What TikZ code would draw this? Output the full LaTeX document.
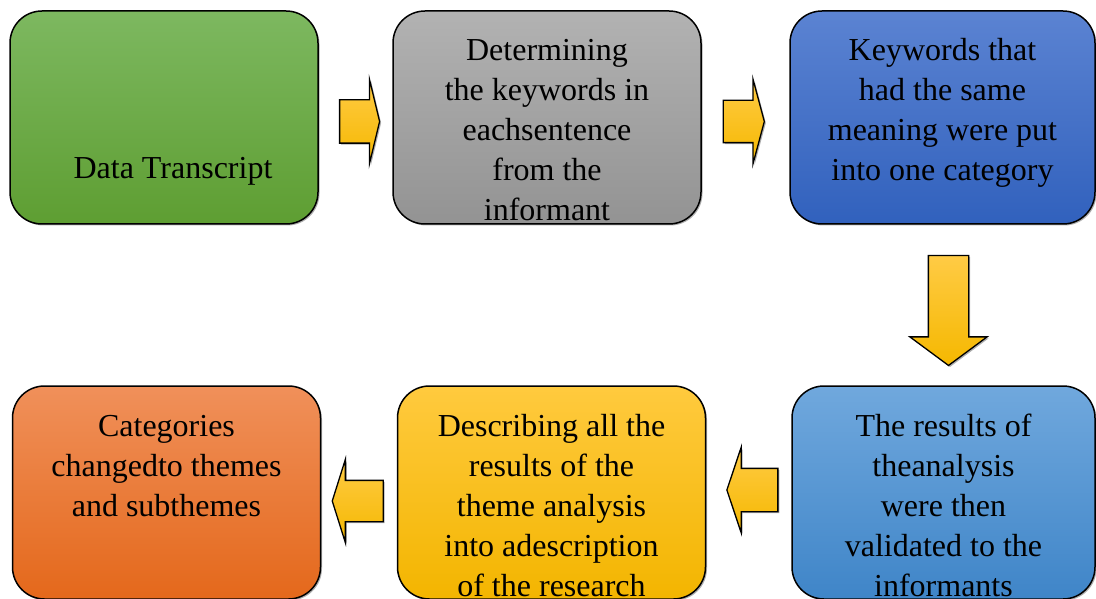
\documentclass[tikz,border=0pt]{standalone}
\usepackage{fontspec}
\setmainfont{Liberation Serif}
\usetikzlibrary{shapes.arrows,shadows}

\definecolor{greenTop}{HTML}{7DB860}
\definecolor{greenBot}{HTML}{5E9E32}
\definecolor{grayTop}{HTML}{B2B2B2}
\definecolor{grayBot}{HTML}{939393}
\definecolor{blueTop}{HTML}{5B83D2}
\definecolor{blueBot}{HTML}{3161BD}
\definecolor{orangeTop}{HTML}{F0905A}
\definecolor{orangeBot}{HTML}{E4681B}
\definecolor{yellowTop}{HTML}{FFCA3E}
\definecolor{yellowBot}{HTML}{F3B500}
\definecolor{skyTop}{HTML}{70A8DD}
\definecolor{skyBot}{HTML}{3F85C8}
\definecolor{arrTop}{HTML}{FFCB45}
\definecolor{arrBot}{HTML}{F5B800}

\tikzset{
  stepbox/.style={draw=black, line width=1.5pt, rounded corners=32pt,
    minimum width=308pt, minimum height=213pt, inner sep=0pt,
    font=\fontsize{32}{40}\selectfont,
    drop shadow={shadow xshift=1.5pt, shadow yshift=-1.5pt, fill=black!70, opacity=.45}},
  flow/.style={single arrow, draw=black, line width=1.3pt, inner sep=0pt,
    top color=arrTop, bottom color=arrBot,
    drop shadow={shadow xshift=1.5pt, shadow yshift=-1.5pt, fill=black!70, opacity=.45}},
}
\newcommand{\steptext}[1]{\parbox[c][169pt][t]{300pt}{\centering\strut #1}}

\begin{document}
\begin{tikzpicture}[x=1pt, y=-1pt]
  \useasboundingbox (0,0) rectangle (1096,599);

  % top row
  \node[stepbox, top color=greenTop, bottom color=greenBot] (s1) at (164,117.5)
    {\steptext{\rule{0pt}{146pt}\hspace*{18pt}Data Transcript}};
  \node[stepbox, top color=grayTop, bottom color=grayBot] (s2) at (547,117.5)
    {\steptext{Determining\\the keywords in\\eachsentence\\from the\\informant}};
  \node[stepbox, top color=blueTop, bottom color=blueBot, minimum width=305pt] (s3) at (942.5,117.5)
    {\steptext{Keywords that\\had the same\\meaning were put\\into one category}};

  % bottom row
  \node[stepbox, top color=skyTop, bottom color=skyBot, minimum width=303pt] (s4) at (943.5,492.5)
    {\steptext{The results of\\theanalysis\\were then\\validated to the\\informants}};
  \node[stepbox, top color=yellowTop, bottom color=yellowBot] (s5) at (551.5,492.5)
    {\steptext{Describing all the\\results of the\\theme analysis\\into adescription\\of the research}};
  \node[stepbox, top color=orangeTop, bottom color=orangeBot] (s6) at (166.5,492.5)
    {\steptext{Categories\\changedto themes\\and subthemes}};

  % arrows
  \node[flow, minimum height=40pt, inner ysep=21pt, single arrow head extend=20.5pt,
    single arrow tip angle=153] (a12) at (357,121.5) {};
  \node[flow, minimum height=41pt, inner ysep=20.5pt, single arrow head extend=21pt,
    single arrow tip angle=150] (a23) at (741,121.5) {};
  \node[flow, shape border rotate=270, minimum height=110pt, inner xsep=19.5pt,
    single arrow head extend=18.5pt, single arrow tip angle=107] (a34) at (948.5,303) {};
  \node[flow, shape border rotate=180, minimum height=51pt, inner ysep=21pt,
    single arrow head extend=21pt, single arrow tip angle=143] (a45) at (756,490) {};
  \node[flow, shape border rotate=180, minimum height=51pt, inner ysep=20pt,
    single arrow head extend=21pt, single arrow tip angle=145] (a56) at (361,501) {};
\end{tikzpicture}
\end{document}
